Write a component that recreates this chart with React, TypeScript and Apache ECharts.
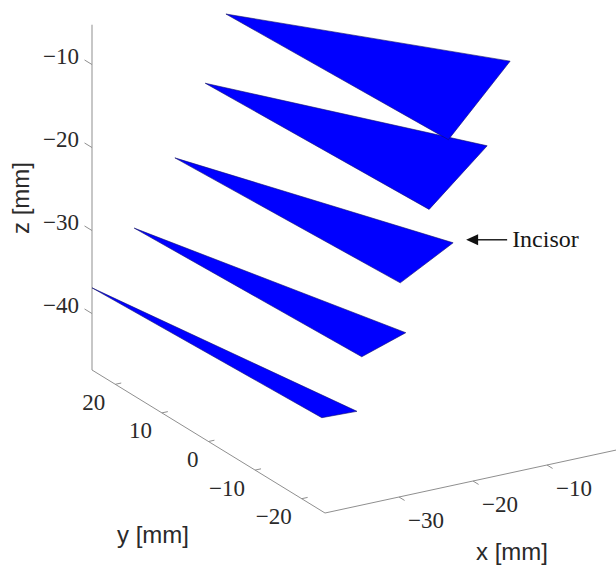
import React, { useEffect, useRef } from "react";
import * as echarts from "echarts";

// ---- data (mm) ----
// five slices, each a triangle: left molar, incisor, right molar
const molarLeft: number[][] = [
  [-21.9, 25, -7.4],
  [-24.7, 25, -15.2],
  [-28.8, 25, -23.4],
  [-34.3, 25, -30.8],
  [-40.0, 25, -36.9],
];
const incisor: number[][] = [
  [-0.5, -2, -7.9],
  [-3.6, -2, -17.5],
  [-8.2, -2, -28.3],
  [-14.6, -2, -37.9],
  [-21.2, -2, -46.1],
];
const molarRight: number[][] = [
  [-22.7, -24, -5.5],
  [-25.3, -24, -13.4],
  [-29.2, -24, -21.5],
  [-34.4, -24, -29.4],
  [-39.8, -24, -35.7],
];
const xLim = [-40, 0];
const yLim = [-25, 25];
const zLim = [-46.8, -5.2];
const xTicks = [-30, -20, -10];
const yTicks = [20, 10, 0, -10, -20];
const zTicks = [-10, -20, -30, -40];
const annotatedSlice = 2;
const annotationText = "Incisor";

const W = 616;
const H = 565;

// orthographic view projection into page pixel space
function proj(p: number[]): number[] {
  const X = p[0] - xLim[0];
  const Y = p[1] - yLim[0];
  const Z = p[2] - zLim[0];
  return [325 + 7.4 * X - 4.66 * Y, 513 - 1.6 * X - 2.86 * Y - 8.3 * Z];
}

const fmt = (v: number) => (v < 0 ? "\u2212" + Math.abs(v) : String(v));

const AXIS_COLOR = "#8f8f8f";
const LABEL_COLOR = "#2a2a2a";
const TICK_FONT = "Liberation Serif";

export default function App() {
  const ref = useRef<HTMLDivElement>(null);
  useEffect(() => {
    if (!ref.current) return;
    const chart = echarts.init(ref.current, undefined, { renderer: "svg" });
    const order = molarLeft.map((_, i) => [molarLeft.length - 1 - i]);
    const tickData = [
      ...xTicks.map((v) => [0, v]),
      ...yTicks.map((v) => [1, v]),
      ...zTicks.map((v) => [2, v]),
    ];
    const option: any = {
      animation: false,
      backgroundColor: "#ffffff",
      grid: { left: 0, right: 0, top: 0, bottom: 0 },
      xAxis: { type: "value", min: 0, max: W, show: false },
      yAxis: { type: "value", min: 0, max: H, inverse: true, show: false },
      series: [
        {
          type: "custom",
          coordinateSystem: "cartesian2d",
          data: [[0]],
          silent: true,
          renderItem: (_p: any, api: any) => {
            const o = api.coord(proj([xLim[0], yLim[0], zLim[0]]));
            const xe = api.coord(proj([xLim[1], yLim[0], zLim[0]]));
            const ye = api.coord(proj([xLim[0], yLim[1], zLim[0]]));
            const ze = api.coord(proj([xLim[0], yLim[1], zLim[1]]));
            const st = { stroke: AXIS_COLOR, lineWidth: 1, fill: "none" };
            return {
              type: "group",
              children: [
                { type: "polyline", shape: { points: [xe, o, ye, ze] }, style: st },
              ],
            };
          },
        },
        {
          type: "custom",
          coordinateSystem: "cartesian2d",
          data: tickData,
          silent: true,
          renderItem: (_p: any, api: any) => {
            const a = api.value(0);
            const v = api.value(1);
            let p0: number[], p1: number[], lx: number, ly: number, align: string;
            if (a === 0) {
              p0 = api.coord(proj([v, yLim[0], zLim[0]]));
              p1 = api.coord(proj([v, yLim[0] - 1.2, zLim[0]]));
              lx = p0[0] + 9;
              ly = p0[1] + 23;
              align = "left";
            } else if (a === 1) {
              p0 = api.coord(proj([xLim[0], v, zLim[0]]));
              p1 = api.coord(proj([xLim[0] + 0.8, v, zLim[0]]));
              lx = p0[0] - 10;
              ly = p0[1] + 18;
              align = "right";
            } else {
              p0 = api.coord(proj([xLim[0], yLim[1], v]));
              p1 = api.coord(proj([xLim[0], yLim[1] + 1.6, v]));
              lx = p0[0] - 13;
              ly = p0[1] - 8;
              align = "right";
            }
            return {
              type: "group",
              children: [
                {
                  type: "line",
                  shape: { x1: p0[0], y1: p0[1], x2: p1[0], y2: p1[1] },
                  style: { stroke: AXIS_COLOR, lineWidth: 1 },
                },
                {
                  type: "text",
                  style: {
                    text: fmt(v),
                    x: lx,
                    y: ly,
                    align,
                    verticalAlign: "middle",
                    fill: LABEL_COLOR,
                    fontSize: 23,
                    fontFamily: TICK_FONT,
                  },
                },
              ],
            };
          },
        },
        {
          type: "custom",
          coordinateSystem: "cartesian2d",
          data: order,
          silent: true,
          renderItem: (_p: any, api: any) => {
            const i = api.value(0);
            const pts = [molarLeft[i], incisor[i], molarRight[i]].map((v) => api.coord(proj(v)));
            return {
              type: "polygon",
              shape: { points: pts },
              style: { fill: "#0000ff", stroke: "#10106a", lineWidth: 0.6 },
            };
          },
        },
        {
          type: "custom",
          coordinateSystem: "cartesian2d",
          data: [[annotatedSlice]],
          silent: true,
          renderItem: (_p: any, api: any) => {
            const i = api.value(0);
            const v = api.coord(proj(incisor[i]));
            const tx = v[0] + 13;
            const ty = v[1] - 3;
            return {
              type: "group",
              children: [
                {
                  type: "line",
                  shape: { x1: tx + 10, y1: ty, x2: tx + 41, y2: ty },
                  style: { stroke: "#111", lineWidth: 1.4 },
                },
                {
                  type: "polygon",
                  shape: { points: [[tx, ty], [tx + 12, ty - 5.5], [tx + 12, ty + 5.5]] },
                  style: { fill: "#111" },
                },
                {
                  type: "text",
                  style: {
                    text: annotationText,
                    x: tx + 46,
                    y: ty - 1,
                    align: "left",
                    verticalAlign: "middle",
                    fill: "#161616",
                    fontSize: 24,
                    fontFamily: "Liberation Serif",
                  },
                },
              ],
            };
          },
        },
      ],
      graphic: [
        {
          type: "text",
          x: 20,
          y: 198,
          rotation: Math.PI / 2,
          style: {
            text: "z [mm]",
            align: "center",
            verticalAlign: "middle",
            fill: LABEL_COLOR,
            fontSize: 24,
            fontFamily: "Liberation Sans",
          },
        },
        {
          type: "text",
          x: 153,
          y: 534,
          style: {
            text: "y [mm]",
            align: "center",
            verticalAlign: "middle",
            fill: LABEL_COLOR,
            fontSize: 24,
            fontFamily: "Liberation Sans",
          },
        },
        {
          type: "text",
          x: 512,
          y: 551,
          style: {
            text: "x [mm]",
            align: "center",
            verticalAlign: "middle",
            fill: LABEL_COLOR,
            fontSize: 24,
            fontFamily: "Liberation Sans",
          },
        },
      ],
    };
    chart.setOption(option);
    return () => chart.dispose();
  }, []);
  return (
    <div
      ref={ref}
      style={{ position: "fixed", left: 0, top: 0, width: W, height: H, background: "#fff" }}
    />
  );
}
